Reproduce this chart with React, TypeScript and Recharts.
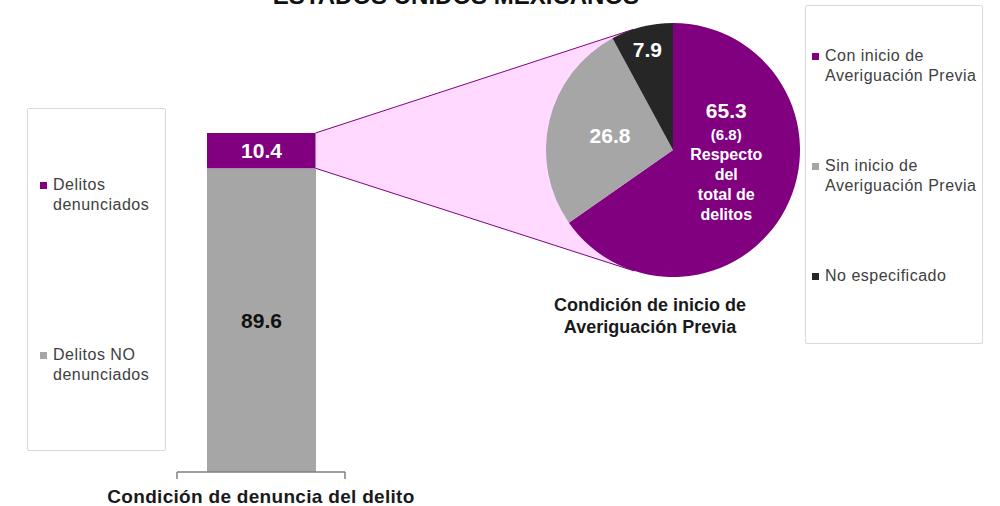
import React from "react";
import { Bar, BarChart, Cell, LabelList, Legend, Pie, PieChart, XAxis, YAxis } from "recharts";

// denuncia (stacked bar)
const DENUNCIA_CATEGORY = "Condición de denuncia del delito";
const NO_DENUNCIADOS = [89.6];
const DENUNCIADOS = [10.4];
const DENUNCIA_NAMES = ["Delitos\ndenunciados", "Delitos NO\ndenunciados"];

// averiguación previa (pie)
const AP_NAMES = ["Con inicio de\nAveriguación Previa", "Sin inicio de\nAveriguación Previa", "No especificado"];
const AP_VALUES = [65.3, 26.8, 7.9];
const AP_SHARE_OF_TOTAL = 6.8;
const AP_NOTE = ["Respecto", "del", "total de", "delitos"];

const TITLE = "ESTADOS UNIDOS MEXICANOS";
const PIE_TITLE = ["Condición de inicio de", "Averiguación Previa"];

const PURPLE = "#800080";
const GRAY = "#a6a6a6";
const BLACK = "#262626";
const AP_COLORS = [PURPLE, GRAY, BLACK];

const W = 1000;
const H = 506;
const BAR_MARGIN = { top: 133, right: 655, bottom: 0, left: 177 };
const AXIS_H = 34;
const BAR_SIZE = 109;
const PIE_CX = 673;
const PIE_CY = 150;
const PIE_R = 127;
const FONT = "'Liberation Sans', Arial, sans-serif";

// single bar sits in the middle of a [0, 1] axis so the axis ends carry the bracket ticks
const barData = NO_DENUNCIADOS.map((no, i) => ({ x: 0.5, no, si: DENUNCIADOS[i] }));
const pieData = AP_NAMES.map((name, i) => ({ name, value: AP_VALUES[i] }));

// connector from the "denunciados" segment to the pie, tangent to the circle
function connectorPoints() {
  const plotTop = BAR_MARGIN.top;
  const plotBottom = H - BAR_MARGIN.bottom - AXIS_H;
  const plotH = plotBottom - plotTop;
  const xBar = (BAR_MARGIN.left + (W - BAR_MARGIN.right)) / 2 + BAR_SIZE / 2;
  const yTop = plotBottom - (plotH * (NO_DENUNCIADOS[0] + DENUNCIADOS[0])) / 100;
  const yJoin = plotBottom - (plotH * NO_DENUNCIADOS[0]) / 100;
  const tangent = (px: number, py: number, side: number) => {
    const dx = PIE_CX - px;
    const dy = PIE_CY - py;
    const d = Math.hypot(dx, dy);
    const ang = Math.atan2(dy, dx) + side * Math.asin(PIE_R / d);
    const len = Math.sqrt(d * d - PIE_R * PIE_R);
    return [px + len * Math.cos(ang), py + len * Math.sin(ang)];
  };
  const t1 = tangent(xBar, yTop, -1);
  const t2 = tangent(xBar, yJoin, 1);
  return { fill: [[xBar, yTop], t1, [PIE_CX, PIE_CY], t2, [xBar, yJoin]], t1, t2, xBar, yTop, yJoin };
}

const legendBox: React.CSSProperties = {
  boxSizing: "border-box",
  width: "100%",
  height: "100%",
  border: "1px solid #d9d9d9",
  borderRadius: 2,
  background: "#fff",
  display: "flex",
  flexDirection: "column",
  fontFamily: FONT,
  fontSize: 16,
  letterSpacing: 0.5,
  lineHeight: "20px",
  color: "#404040",
};

function LegendBox({ items, padLeft, padTop, gap }: { items: { value: string; color: string }[]; padLeft: number; padTop: number; gap: number }) {
  return (
    <div style={{ ...legendBox, paddingLeft: padLeft, paddingTop: padTop, rowGap: gap }}>
      {items.map((it) => (
        <div key={it.value} style={{ display: "flex", alignItems: "flex-start", minHeight: 40 }}>
          <span style={{ width: 7, height: 7, background: it.color, marginTop: 7, marginRight: 6, flexShrink: 0 }} />
          <span style={{ whiteSpace: "pre-line" }}>{it.value}</span>
        </div>
      ))}
    </div>
  );
}

const orderBy = (payload: any[], names: string[]) =>
  [...(payload || [])]
    .sort((a, b) => names.indexOf(a.value) - names.indexOf(b.value))
    .map((p: any) => ({ value: p.value, color: p.color }));

const renderBarLegend = (props: any) => (
  <LegendBox items={orderBy(props.payload, DENUNCIA_NAMES)} padLeft={12} padTop={66} gap={130} />
);
const renderPieLegend = (props: any) => (
  <LegendBox items={orderBy(props.payload, AP_NAMES)} padLeft={6} padTop={40} gap={70} />
);

const RAD = Math.PI / 180;
const LABEL_POS = [
  { rf: 0.52, shift: 63.8 },
  { rf: 0.51, shift: 0 },
  { rf: 0.82, shift: 0 },
];

const renderPieLabel = (props: any) => {
  const { cx, cy, midAngle, outerRadius, index, value } = props;
  const pos = LABEL_POS[index];
  const a = (midAngle + pos.shift) * RAD;
  const x = cx + outerRadius * pos.rf * Math.cos(-a);
  const y = cy + outerRadius * pos.rf * Math.sin(-a);
  const common = { textAnchor: "middle" as const, dominantBaseline: "central" as const, fill: "#fff", fontWeight: 700, fontFamily: FONT };
  if (index !== 0) {
    return (
      <text x={x} y={y} fontSize={21} {...common}>
        {value.toFixed(1)}
      </text>
    );
  }
  return (
    <g>
      <text x={x} y={y} fontSize={21} {...common}>
        {value.toFixed(1)}
      </text>
      <text x={x} y={y + 24} fontSize={15} {...common}>
        ({AP_SHARE_OF_TOTAL.toFixed(1)})
      </text>
      {AP_NOTE.map((line, i) => (
        <text key={line} x={x} y={y + 44 + i * 20} fontSize={16} {...common}>
          {line}
        </text>
      ))}
    </g>
  );
};

export default function App() {
  const c = connectorPoints();
  const poly = c.fill.map((p) => p.join(",")).join(" ");
  return (
    <div style={{ position: "fixed", left: 0, top: 0, width: W, height: H, fontFamily: FONT, background: "#fff" }}>
      <div style={{ position: "absolute", left: 0, top: 0 }}>
        <BarChart width={W} height={H} data={barData} margin={BAR_MARGIN}>
          <XAxis
            dataKey="x"
            type="number"
            domain={[0, 1]}
            ticks={[0, 1]}
            tick={() => <g />}
            tickSize={7}
            height={AXIS_H}
            axisLine={{ stroke: "#7f7f7f", strokeWidth: 1.5 }}
            tickLine={{ stroke: "#7f7f7f", strokeWidth: 1.5 }}
            label={{
              value: DENUNCIA_CATEGORY,
              position: "insideBottom",
              offset: 3,
              fill: "#1a1a1a",
              fontSize: 19,
              fontWeight: 700,
              letterSpacing: 0.3,
            }}
          />
          <YAxis hide domain={[0, 100]} />
          <Legend
            layout="vertical"
            align="center"
            verticalAlign="middle"
            content={renderBarLegend}
            wrapperStyle={{ position: "absolute", left: 27, top: 108, width: 139, height: 343 }}
          />
          <Bar dataKey="no" name={DENUNCIA_NAMES[1]} stackId="d" fill={GRAY} barSize={BAR_SIZE} isAnimationActive={false}>
            <LabelList dataKey="no" position="center" fill="#111" fontSize={21} fontWeight={700} />
          </Bar>
          <Bar dataKey="si" name={DENUNCIA_NAMES[0]} stackId="d" fill={PURPLE} barSize={BAR_SIZE} isAnimationActive={false}>
            <LabelList dataKey="si" position="center" fill="#fff" fontSize={21} fontWeight={700} />
          </Bar>
        </BarChart>
      </div>
      <svg width={W} height={H} style={{ position: "absolute", left: 0, top: 0 }}>
        <polygon points={poly} fill="#ffd9ff" stroke="none" />
        <line x1={c.xBar} y1={c.yTop} x2={c.t1[0]} y2={c.t1[1]} stroke={PURPLE} strokeWidth={1} />
        <line x1={c.xBar} y1={c.yJoin} x2={c.t2[0]} y2={c.t2[1]} stroke={PURPLE} strokeWidth={1} />
        <text x={456} y={4} textAnchor="middle" fontSize={24} fontWeight={700} fill="#111" fontFamily={FONT}>
          {TITLE}
        </text>
        {PIE_TITLE.map((line, i) => (
          <text key={line} x={650} y={311 + i * 22} textAnchor="middle" fontSize={18} fontWeight={700} fill="#1a1a1a" fontFamily={FONT}>
            {line}
          </text>
        ))}
      </svg>
      <div style={{ position: "absolute", left: 0, top: 0 }}>
        <PieChart width={W} height={H} margin={{ top: 0, right: 0, bottom: 0, left: 0 }}>
          <Pie
            data={pieData}
            dataKey="value"
            nameKey="name"
            cx={PIE_CX}
            cy={PIE_CY}
            outerRadius={PIE_R}
            startAngle={90}
            endAngle={-270}
            stroke="none"
            label={renderPieLabel}
            labelLine={false}
            isAnimationActive={false}
          >
            {pieData.map((d, i) => (
              <Cell key={d.name} fill={AP_COLORS[i]} />
            ))}
          </Pie>
          <Legend
            layout="vertical"
            align="center"
            verticalAlign="middle"
            content={renderPieLegend}
            wrapperStyle={{ position: "absolute", left: 805, top: 5, width: 178, height: 339 }}
          />
        </PieChart>
      </div>
    </div>
  );
}
